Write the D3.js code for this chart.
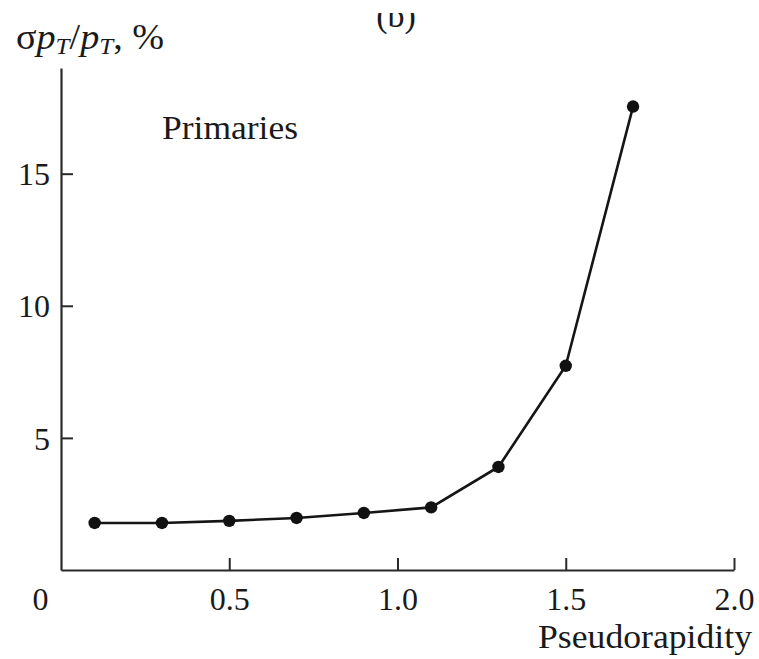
<!DOCTYPE html>
<html><head><meta charset="utf-8">
<script src="https://cdn.jsdelivr.net/npm/d3@7"></script>
<style>
html,body{margin:0;padding:0;background:#fff;}
svg{display:block;}
svg text{font-family:"Times New Roman","Liberation Serif",Times,"Nimbus Roman","Nimbus Roman No9 L",Tinos,FreeSerif,serif;fill:#1a1a1a;}
</style></head>
<body><svg id="c" width="759" height="659"></svg>
<script>
const eta = [0.1, 0.3, 0.5, 0.7, 0.9, 1.1, 1.3, 1.5, 1.7];
const resolution = [1.78, 1.78, 1.86, 1.97, 2.16, 2.37, 3.9, 7.73, 17.54];
const xTicks = [0, 0.5, 1.0, 1.5, 2.0];
const xTickLabels = ["0", "0.5", "1.0", "1.5", "2.0"];
const yTicks = [5, 10, 15];
const yTickLabels = ["5", "10", "15"];

const svg = d3.select("#c");
const x = d3.scaleLinear().domain([0, 2]).range([61, 734]);
const y = d3.scaleLinear().domain([0, 19]).range([570, 68]);
const axisColor = "#2a2a2a";

// X axis
const gx = svg.append("g").attr("transform", `translate(0,${y(0)})`)
  .call(d3.axisBottom(x).tickValues(xTicks).tickSizeInner(-12).tickSizeOuter(0)
    .tickFormat((d,i) => xTickLabels[i]));
gx.attr("font-family", null);
gx.select(".domain").attr("stroke", axisColor).attr("stroke-width", 2.2);
gx.selectAll(".tick line").attr("stroke", axisColor).attr("stroke-width", 2);
gx.selectAll(".tick").filter(d => d === 0).select("line").remove();
gx.selectAll(".tick text").attr("font-size", 32).attr("y", 0).attr("dy", 40).attr("fill", "#1a1a1a");
gx.selectAll(".tick").filter(d => d === 0).select("text").attr("x", 40 - 61);

// Y axis
const gy = svg.append("g").attr("transform", `translate(${x(0)},0)`)
  .call(d3.axisLeft(y).tickValues(yTicks).tickSizeInner(-12).tickSizeOuter(0)
    .tickFormat((d,i) => yTickLabels[i]));
gy.attr("font-family", null);
gy.select(".domain").attr("stroke", axisColor).attr("stroke-width", 2.2);
gy.selectAll(".tick line").attr("stroke", axisColor).attr("stroke-width", 2);
gy.selectAll(".tick text").attr("font-size", 32).attr("x", -11).attr("dy", "0.35em").attr("fill", "#1a1a1a");

// line
const line = d3.line().x((d,i) => x(eta[i])).y(d => y(d));
svg.append("path").datum(resolution).attr("d", line)
  .attr("fill", "none").attr("stroke", "#151515").attr("stroke-width", 2.6);

svg.selectAll("circle.pt").data(resolution).join("circle").attr("class", "pt")
  .attr("cx", (d,i) => x(eta[i])).attr("cy", d => y(d)).attr("r", 6.2).attr("fill", "#111");

// Texts
svg.append("text").attr("x", 162).attr("y", 139).attr("font-size", 34)
  .attr("textLength", 136).attr("lengthAdjust", "spacingAndGlyphs").text("Primaries");

svg.append("text").attr("x", 538).attr("y", 648).attr("font-size", 34)
  .attr("textLength", 214).attr("lengthAdjust", "spacingAndGlyphs").text("Pseudorapidity");

// panel label, only its lower part is visible in the reference
svg.append("clipPath").attr("id", "topclip")
  .append("rect").attr("x", 300).attr("y", 13).attr("width", 200).attr("height", 40);
svg.append("text").attr("x", 396).attr("y", 27).attr("font-size", 34)
  .attr("text-anchor", "middle").attr("clip-path", "url(#topclip)").text("(b)");

// y-axis title
const yl = svg.append("text").attr("x", 16).attr("y", 49).attr("font-size", 35)
  .attr("textLength", 148).attr("lengthAdjust", "spacingAndGlyphs");
yl.append("tspan").text("σ");
yl.append("tspan").attr("font-style", "italic").text("p");
yl.append("tspan").attr("font-style", "italic").attr("font-size", 23).attr("dy", 5).text("T");
yl.append("tspan").attr("dy", -5).text("/");
yl.append("tspan").attr("font-style", "italic").text("p");
yl.append("tspan").attr("font-style", "italic").attr("font-size", 23).attr("dy", 5).text("T");
yl.append("tspan").attr("dy", -5).text(", %");
</script></body></html>
